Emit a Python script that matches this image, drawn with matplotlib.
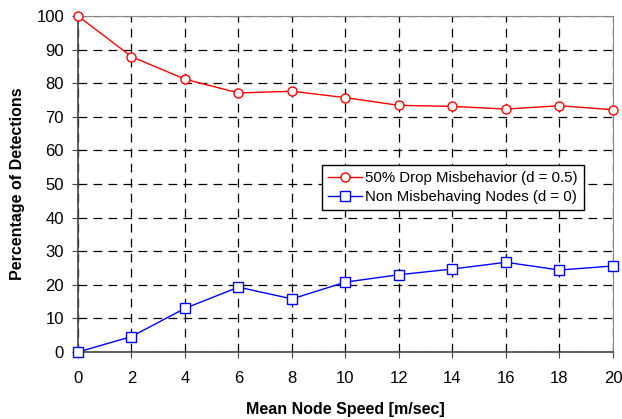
import matplotlib
matplotlib.use("Agg")
import matplotlib.pyplot as plt

speed = [0, 2, 4, 6, 8, 10, 12, 14, 16, 18, 20]
drop_misbehavior = [100, 87.9, 81.2, 77.1, 77.6, 75.7, 73.4, 73.1, 72.3, 73.3, 72.1]
non_misbehaving = [0, 4.6, 13.0, 19.3, 15.8, 20.8, 23.0, 24.7, 26.7, 24.4, 25.6]
xticks = [0, 2, 4, 6, 8, 10, 12, 14, 16, 18, 20]
yticks = [0, 10, 20, 30, 40, 50, 60, 70, 80, 90, 100]

plt.rcParams['font.family'] = ['Liberation Sans', 'DejaVu Sans']

fig = plt.figure(figsize=(6.22, 4.19), dpi=100)
ax = fig.add_axes([0.1254, 0.1599, 0.8601, 0.8019])

ax.plot(speed, drop_misbehavior, color='#ff0000', lw=1, marker='o', ms=6.5,
        mfc='white', mec='#ff0000', mew=1, label='50% Drop Misbehavior (d = 0.5)', clip_on=False, zorder=3)
ax.plot(speed, non_misbehaving, color='#0000ff', lw=1, marker='s', ms=6.5,
        mfc='white', mec='#0000ff', mew=1, label='Non Misbehaving Nodes (d = 0)', clip_on=False, zorder=3)

ax.set_xlim(0, 20)
ax.set_ylim(0, 100)
ax.set_xticks(xticks)
ax.set_yticks(yticks)
ax.grid(True, color='black', linestyle=(0, (7, 5)), lw=0.9)
ax.set_axisbelow(True)
for s in ['top', 'right']:
    ax.spines[s].set_color('#888888')
for s in ['left', 'bottom']:
    ax.spines[s].set_color('#444444')
    ax.spines[s].set_linewidth(1.2)
ax.tick_params(direction='out', length=4, labelsize=12, color='#444444')
ax.tick_params(axis='x', pad=10)
ax.tick_params(axis='y', pad=6)

ax.set_xlabel('Mean Node Speed [m/sec]', fontsize=11.5, fontweight='bold', labelpad=11)
ax.set_ylabel('Percentage of Detections', fontsize=11.5, fontweight='bold', labelpad=8)

leg = ax.legend(loc='upper left', bbox_to_anchor=(0.456, 0.557), fontsize=10.8,
                frameon=True, fancybox=False, edgecolor='black', framealpha=1,
                borderpad=0.4, handlelength=2.3, handletextpad=0.2, labelspacing=0.35,
                borderaxespad=0)
leg.get_frame().set_linewidth(1)

fig.savefig('out.png', dpi=100)
